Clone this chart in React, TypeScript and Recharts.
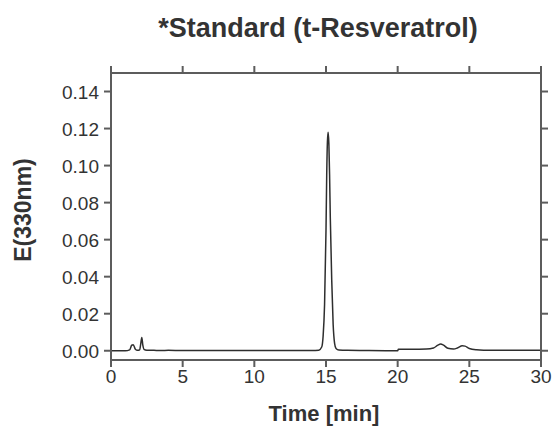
import React from 'react';
import { LineChart, Line, XAxis, YAxis } from 'recharts';

// retention time (min) and absorbance at 330 nm
const times = [
  0, 0.5, 1.0, 1.3, 1.45, 1.55, 1.7, 1.85, 2.0, 2.08, 2.15, 2.22, 2.3, 2.5, 3.0, 3.5, 4.0,
  5, 7, 10, 12, 14, 14.5, 14.7, 14.8, 14.9, 15.0, 15.05, 15.1, 15.15, 15.2, 15.25, 15.3,
  15.4, 15.5, 15.6, 15.7, 15.9, 16.5, 18, 19.5, 20.0, 20.05, 21, 22, 22.5, 22.8, 23.0,
  23.2, 23.5, 23.9, 24.2, 24.5, 24.7, 25.0, 25.5, 26, 28, 30,
];
const absorbance = [
  0, 0, 0, 0.0005, 0.003, 0.0033, 0.0008, 0.0002, 0.0005, 0.004, 0.0072, 0.003, 0.0008,
  0.0003, 0.0002, 0.0001, 0.0002, 0.0001, 0.0001, 0.0001, 0.0001, 0.0001, 0.0003, 0.002,
  0.008, 0.025, 0.065, 0.095, 0.113, 0.118, 0.112, 0.095, 0.072, 0.038, 0.014, 0.004,
  0.0012, 0.0004, 0.0002, 0.0001, 0, 0, 0.0008, 0.0008, 0.0009, 0.0015, 0.003, 0.0036,
  0.003, 0.0013, 0.0009, 0.0016, 0.0027, 0.0025, 0.0012, 0.0005, 0.0003, 0.0002, 0.0002,
];
const xTicks = [0, 5, 10, 15, 20, 25, 30];
const yTicks = [0, 0.02, 0.04, 0.06, 0.08, 0.1, 0.12, 0.14];

const data = times.map((t, i) => ({ t, e: absorbance[i] }));

const FONT = '"Liberation Sans", Arial, sans-serif';
const FRAME = '#5c5c5c';
const TEXT = '#333';

const BottomTick = (props: any) => {
  const { x, y, payload } = props;
  return (
    <text x={x} y={y + 14} textAnchor="middle" fontSize={19} fontFamily={FONT} fill={TEXT}>
      {payload.value}
    </text>
  );
};

const LeftTick = (props: any) => {
  const { x, y, payload } = props;
  return (
    <text x={x} y={y + 7} textAnchor="end" fontSize={19} fontFamily={FONT} fill={TEXT}>
      {Number(payload.value).toFixed(2)}
    </text>
  );
};

const NoLabel = () => <g />;

export default function App() {
  return (
    <div style={{ position: 'absolute', left: 0, top: 0, width: 552, height: 428, background: '#fff' }}>
      <LineChart width={552} height={428} data={data} margin={{ top: 63, right: 1, bottom: 38, left: 51 }}>
        <XAxis
          xAxisId="b"
          dataKey="t"
          type="number"
          domain={[0, 30]}
          ticks={xTicks}
          height={30}
          tickSize={7}
          tickMargin={2}
          stroke={FRAME}
          strokeWidth={2}
          allowDataOverflow
          tick={<BottomTick />}
        />
        <XAxis
          xAxisId="t"
          dataKey="t"
          orientation="top"
          type="number"
          domain={[0, 30]}
          ticks={xTicks}
          height={10}
          tickSize={7}
          stroke={FRAME}
          strokeWidth={2}
          allowDataOverflow
          tick={<NoLabel />}
        />
        <YAxis
          yAxisId="l"
          type="number"
          domain={[-0.005, 0.15]}
          ticks={yTicks}
          width={60}
          tickSize={7}
          tickMargin={5}
          stroke={FRAME}
          strokeWidth={2}
          allowDataOverflow
          tick={<LeftTick />}
        />
        <YAxis
          yAxisId="r"
          orientation="right"
          type="number"
          domain={[-0.005, 0.15]}
          ticks={yTicks}
          width={10}
          tickSize={7}
          stroke={FRAME}
          strokeWidth={2}
          allowDataOverflow
          tick={<NoLabel />}
        />
        <Line
          xAxisId="b"
          yAxisId="l"
          dataKey="e"
          type="monotone"
          stroke="#2e2e2e"
          strokeWidth={1.5}
          dot={false}
          isAnimationActive={false}
        />
      </LineChart>
      <svg
        width={552}
        height={428}
        style={{ position: 'absolute', left: 0, top: 0, pointerEvents: 'none' }}
      >
        <text x={318} y={37} textAnchor="middle" fontSize={27} fontWeight="bold" fontFamily={FONT} fill={TEXT}>
          *Standard (t-Resveratrol)
        </text>
        <text x={324} y={421} textAnchor="middle" fontSize={22} fontWeight="bold" fontFamily={FONT} fill={TEXT}>
          Time [min]
        </text>
        <text
          x={0}
          y={0}
          transform="translate(31,210) rotate(-90)"
          textAnchor="middle"
          fontSize={23}
          fontWeight="bold"
          fontFamily={FONT}
          fill={TEXT}
        >
          E(330nm)
        </text>
      </svg>
    </div>
  );
}
